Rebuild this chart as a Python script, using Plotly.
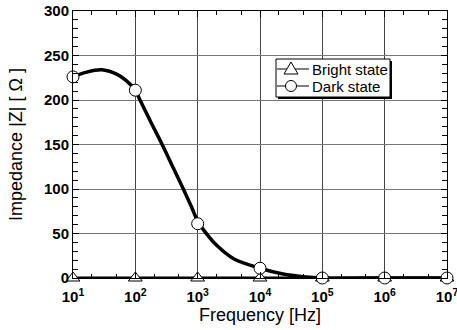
import plotly.graph_objects as go

# Measured data points
freq = [1e1, 1e2, 1e3, 1e4, 1e5, 1e6, 1e7]
bright_z = [0, 0, 0, 0, 0, 0, 0]
dark_z = [226, 211, 61, 11, 0, 0, 0]

# Fitted curve for the dark state
curve_logf = [1.0, 1.2, 1.46, 1.7, 1.85, 2.0, 2.075, 2.25, 2.43, 2.6, 2.77, 2.9, 3.0,
              3.15, 3.3, 3.57, 4.0, 4.37, 4.69, 5.0, 6.0, 7.0]
curve_z = [226, 231, 234, 229, 222, 211, 200, 175, 150, 125, 100, 80, 64,
           49, 37, 22, 11, 4.5, 1.5, 0, 0, 0]

xtick_vals = [1e1, 1e2, 1e3, 1e4, 1e5, 1e6, 1e7]
xtick_text = ["10<sup>1</sup>", "10<sup>2</sup>", "10<sup>3</sup>", "10<sup>4</sup>",
              "10<sup>5</sup>", "10<sup>6</sup>", "10<sup>7</sup>"]
ytick_vals = [0, 50, 100, 150, 200, 250, 300]
legend_names = ["Bright state", "Dark state"]

FONT = "Liberation Sans"

# plot-area geometry (pixels) used for the hand-drawn legend box
L, R, T, B = 73, 447, 11, 278
def px(x):
    return (x - L) / (R - L)
def py(y):
    return (B - y) / (B - T)

fig = go.Figure()

# Bright state line + markers
fig.add_trace(go.Scatter(
    x=freq, y=bright_z, mode="lines+markers", name=legend_names[0],
    line=dict(color="black", width=3),
    marker=dict(symbol="triangle-up", size=12, color="white",
                line=dict(color="black", width=1)),
    cliponaxis=False, showlegend=False))

# Dark state fitted curve
fig.add_trace(go.Scatter(
    x=[10 ** v for v in curve_logf], y=curve_z, mode="lines",
    line=dict(color="black", width=3.5, shape="spline", smoothing=1.0),
    showlegend=False, hoverinfo="skip"))

# Dark state markers
fig.add_trace(go.Scatter(
    x=freq, y=dark_z, mode="markers", name=legend_names[1],
    marker=dict(symbol="circle", size=12, color="white",
                line=dict(color="black", width=1)),
    cliponaxis=False, showlegend=False))

# ---- hand-drawn legend (box with drop shadow) ----
bx0, bx1, by0, by1 = 276, 390, 59, 97
fig.add_shape(type="rect", xref="paper", yref="paper",
              x0=px(bx0 + 2), x1=px(bx1 + 2), y0=py(by1 + 2), y1=py(by0 + 2),
              fillcolor="black", line=dict(width=0), layer="above")
fig.add_shape(type="rect", xref="paper", yref="paper",
              x0=px(bx0), x1=px(bx1), y0=py(by1), y1=py(by0),
              fillcolor="white", line=dict(color="black", width=1), layer="above")
rows = [69, 86]
for i, name in enumerate(legend_names):
    yc = rows[i]
    fig.add_shape(type="line", xref="paper", yref="paper",
                  x0=px(bx0 + 1), x1=px(309), y0=py(yc), y1=py(yc),
                  line=dict(color="black", width=1), layer="above")
    cx = 291
    if i == 0:
        path = "M {:.5f} {:.5f} L {:.5f} {:.5f} L {:.5f} {:.5f} Z".format(
            px(cx - 7), py(yc + 5), px(cx + 7), py(yc + 5), px(cx), py(yc - 7))
        fig.add_shape(type="path", xref="paper", yref="paper", path=path,
                      fillcolor="white", line=dict(color="black", width=1), layer="above")
    else:
        fig.add_shape(type="circle", xref="paper", yref="paper",
                      x0=px(cx - 5.5), x1=px(cx + 5.5), y0=py(yc + 5.5), y1=py(yc - 5.5),
                      fillcolor="white", line=dict(color="black", width=1), layer="above")
    fig.add_annotation(xref="paper", yref="paper", x=px(310), y=py(yc),
                       xanchor="left", yanchor="middle", showarrow=False,
                       text=name, font=dict(size=15, family=FONT, color="black"))

fig.update_layout(
    width=457, height=330,
    margin=dict(l=L, r=457 - R, t=T, b=330 - B),
    paper_bgcolor="white", plot_bgcolor="white",
    font=dict(family=FONT, color="black", size=14),
    showlegend=False,
    xaxis=dict(
        type="log", range=[1, 7], automargin=False,
        tickvals=xtick_vals, ticktext=xtick_text,
        ticks="inside", ticklen=6, tickcolor="black",
        showline=True, linecolor="black", linewidth=1, mirror="ticks",
        showgrid=True, gridcolor="#444", gridwidth=1,
        minor=dict(ticks="inside", ticklen=4, tickcolor="black", showgrid=False),
        title=dict(text="Frequency [Hz]", font=dict(size=18, family=FONT), standoff=2),
        tickfont=dict(size=15, family=FONT, weight="bold"),
        ticklabelstandoff=5,
        ticklabeloverflow="allow",
        zeroline=False,
    ),
    yaxis=dict(
        range=[0, 300], tickvals=ytick_vals, automargin=False,
        ticks="inside", ticklen=6, tickcolor="black",
        showline=True, linecolor="black", linewidth=1, mirror="ticks",
        showgrid=True, gridcolor="#777", gridwidth=1,
        minor=dict(dtick=10, ticks="inside", ticklen=5, tickcolor="black", showgrid=False),
        title=dict(text="Impedance |Z| [ Ω ]", font=dict(size=18, family=FONT), standoff=16),
        tickfont=dict(size=15, family=FONT, weight="bold"),
        ticklabeloverflow="allow",
        zeroline=False,
    ),
)

fig.write_html("out.html")
